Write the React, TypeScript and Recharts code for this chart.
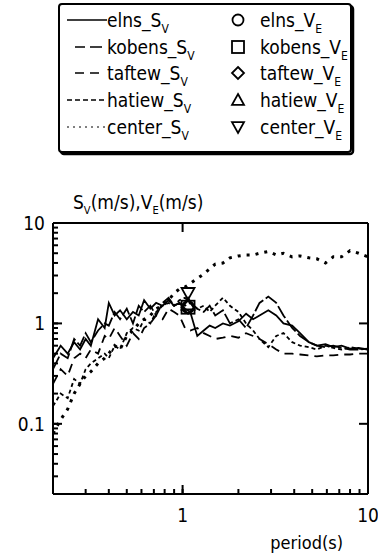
import React from "react";
import { ComposedChart, Line, Scatter, XAxis, YAxis, ReferenceLine } from "recharts";

// period grid (s)
const periods = [
  0.2, 0.22, 0.24, 0.26, 0.28, 0.3, 0.32, 0.35, 0.38, 0.4, 0.43, 0.46, 0.5, 0.54, 0.58, 0.62,
  0.67, 0.72, 0.78, 0.84, 0.9, 0.96, 1.03, 1.1, 1.2, 1.3, 1.4, 1.5, 1.65, 1.8, 2.0, 2.2, 2.4,
  2.6, 2.9, 3.2, 3.5, 3.9, 4.3, 4.8, 5.3, 5.9, 6.5, 7.2, 8.0, 8.9, 10,
];

// S_V (m/s) per record
const elnsSv = [
  0.45, 0.6, 0.5, 0.65, 0.55, 0.7, 0.6, 1.1, 0.9, 1.6, 1.2, 1.35, 1.1, 1.3, 1.2, 1.7, 1.4, 1.6,
  1.5, 1.7, 1.5, 1.6, 1.4, 1.3, 0.75, 0.85, 0.95, 0.9, 1.0, 0.95, 1.05, 1.25, 1.1, 1.2, 1.35,
  1.2, 1.0, 0.95, 0.8, 0.65, 0.6, 0.62, 0.58, 0.6, 0.56, 0.57, 0.55,
];
const kobensSv = [
  0.35, 0.5, 0.45, 0.7, 0.6, 0.8, 0.65, 0.85, 1.0, 0.95, 1.3, 1.1, 1.4, 1.0, 1.5, 1.3, 1.5, 1.2,
  1.6, 1.8, 1.5, 1.6, 1.5, 1.6, 1.4, 1.3, 1.5, 1.2, 1.35, 1.0, 1.1, 0.9, 1.2, 1.6, 1.85, 1.6,
  1.2, 0.9, 0.75, 0.65, 0.6, 0.58, 0.6, 0.57, 0.55, 0.55, 0.56,
];
const taftewSv = [
  0.25, 0.35, 0.3, 0.45, 0.5, 0.45, 0.55, 0.5, 0.75, 0.7, 0.9, 0.75, 0.6, 0.8, 0.7, 0.9, 1.0,
  1.2, 1.1, 1.4, 1.3, 1.2, 0.9, 0.85, 0.9, 0.8, 0.75, 0.7, 0.72, 0.75, 0.72, 0.8, 0.75, 0.7,
  0.62, 0.55, 0.5, 0.5, 0.49, 0.48, 0.47, 0.48, 0.48, 0.49, 0.49, 0.5, 0.5,
];
const hatiewSv = [
  0.15, 0.2, 0.18, 0.28, 0.25, 0.35, 0.4, 0.45, 0.5, 0.45, 0.6, 0.55, 0.8, 0.9, 0.85, 1.1, 1.0,
  1.3, 1.5, 1.6, 1.5, 1.7, 1.8, 1.6, 1.4, 1.5, 1.3, 1.5, 1.8, 1.5, 1.3, 1.0, 0.85, 0.7, 0.58,
  0.75, 0.8, 0.65, 0.6, 0.58, 0.55, 0.6, 0.57, 0.55, 0.58, 0.56, 0.55,
];
const centerSv = [
  0.08, 0.11, 0.14, 0.2, 0.25, 0.3, 0.33, 0.4, 0.45, 0.5, 0.6, 0.55, 0.75, 0.85, 1.0, 1.1, 1.2,
  1.4, 1.5, 1.7, 2.0, 2.2, 2.3, 2.5, 2.8, 3.1, 3.5, 3.9, 4.0, 4.5, 4.7, 4.8, 4.8, 5.0, 5.2, 4.8,
  5.0, 4.6, 4.7, 4.5, 4.4, 4.0, 4.6, 4.6, 5.3, 5.0, 4.6,
];

// V_E (m/s) points
const vePeriod = 1.07;
const elnsVe = 1.45;
const kobensVe = 1.45;
const taftewVe = 1.45;
const hatiewVe = 1.55;
const centerVe = 2.0;

const xTicks = [0.2, 0.3, 0.4, 0.5, 0.6, 0.7, 0.8, 0.9, 1, 2, 3, 4, 5, 6, 7, 8, 9, 10];
const xMajor = [1, 10];
const yTicks = [
  0.02, 0.03, 0.04, 0.05, 0.06, 0.07, 0.08, 0.09, 0.1, 0.2, 0.3, 0.4, 0.5, 0.6, 0.7, 0.8, 0.9,
  1, 2, 3, 4, 5, 6, 7, 8, 9, 10,
];
const yMajor = [0.1, 1, 10];

const X_DOMAIN = [0.2, 10];
const Y_DOMAIN = [0.02, 10];

const rows = periods.map((p, i) => ({
  period: p,
  elns: elnsSv[i],
  kobens: kobensSv[i],
  taftew: taftewSv[i],
  hatiew: hatiewSv[i],
  center: centerSv[i],
}));

const FONT = '"Liberation Sans Narrow", "DejaVu Sans Condensed", "Liberation Sans", sans-serif';

// plot is 315 x 271 px; tick lengths (px) expressed as log-scale factors
const PX_PER_DEC_X = 315 / Math.log10(X_DOMAIN[1] / X_DOMAIN[0]);
const PX_PER_DEC_Y = 271 / Math.log10(Y_DOMAIN[1] / Y_DOMAIN[0]);
const fx = (px: number) => Math.pow(10, px / PX_PER_DEC_X);
const fy = (px: number) => Math.pow(10, px / PX_PER_DEC_Y);

const lines = [
  { key: "elns", dash: undefined, width: 1.8, lx: [67, 107] },
  { key: "kobens", dash: "14 3", width: 1.8, lx: [75, 102], ldash: "10 5 14" },
  { key: "taftew", dash: "9 6", width: 1.8, lx: [75, 102], ldash: "9 6" },
  { key: "hatiew", dash: "4 3", width: 1.8, lx: [67, 107], ldash: "5 3" },
  { key: "center", dash: "3 6", width: 3, lx: [67, 107], ldash: "2 4", lw: 1 },
];

const markers = [
  { name: "elns", shape: "circle", value: elnsVe },
  { name: "kobens", shape: "square", value: kobensVe },
  { name: "taftew", shape: "diamond", value: taftewVe },
  { name: "hatiew", shape: "up", value: hatiewVe },
  { name: "center", shape: "down", value: centerVe },
];

const Mark = ({ cx, cy, shape, r = 6.5 }: any) => {
  const st = { fill: "none", stroke: "#000", strokeWidth: 1.8 };
  if (shape === "circle") return <circle cx={cx} cy={cy} r={r - 0.5} {...st} />;
  if (shape === "square") return <rect x={cx - r} y={cy - r} width={r * 2} height={r * 2} {...st} />;
  if (shape === "diamond")
    return <polygon points={`${cx},${cy - r} ${cx + r},${cy} ${cx},${cy + r} ${cx - r},${cy}`} {...st} />;
  if (shape === "up")
    return <polygon points={`${cx},${cy - r} ${cx + r},${cy + r * 0.8} ${cx - r},${cy + r * 0.8}`} {...st} />;
  return <polygon points={`${cx},${cy + r} ${cx + r},${cy - r * 0.8} ${cx - r},${cy - r * 0.8}`} {...st} />;
};

// tick props arrive 5px inside the plot (tickSize -5)
const BottomLabel = (props: any) => {
  const { x, y, payload } = props;
  if (!xMajor.includes(payload.value)) return <g />;
  return (
    <text x={x} y={y + 33} textAnchor="middle" fontFamily={FONT} fontSize={19} fill="#000">
      {payload.value}
    </text>
  );
};

const LeftLabel = (props: any) => {
  const { x, y, payload } = props;
  if (!yMajor.includes(payload.value)) return <g />;
  return (
    <text x={x - 13} y={y + 7} textAnchor="end" fontFamily={FONT} fontSize={19} fill="#000">
      {payload.value}
    </text>
  );
};

const axisLine = { stroke: "#000", strokeWidth: 2 };
const tickStroke = { stroke: "#000", strokeWidth: 2 };

const Overlay = () => {
  const rowY = [27, 54, 80, 107, 134];
  return (
    <svg width={378} height={553} style={{ position: "absolute", left: 0, top: 0 }} fontFamily={FONT}>
      <rect x={61} y={6} width={292} height={148} rx={3} fill="none" stroke="#000" strokeWidth={2.5} />
      <rect x={59} y={4} width={292} height={148} rx={3} fill="#fff" stroke="#000" strokeWidth={2} />
      {lines.map((l, i) => (
        <g key={l.key}>
          <line
            x1={l.lx[0]}
            x2={l.lx[1]}
            y1={rowY[i] - 7}
            y2={rowY[i] - 7}
            stroke="#000"
            strokeWidth={l.lw ?? 1.4}
            strokeDasharray={l.ldash}
          />
          <text x={107} y={rowY[i]} fontSize={19} fill="#000">
            {l.key}_S
            <tspan fontSize={12} dy={6}>V</tspan>
          </text>
        </g>
      ))}
      {markers.map((m, i) => (
        <g key={m.name}>
          <Mark cx={238} cy={rowY[i] - 7} shape={m.shape} r={6} />
          <text x={260} y={rowY[i]} fontSize={19} fill="#000">
            {m.name}_V
            <tspan fontSize={12} dy={6}>E</tspan>
          </text>
        </g>
      ))}
      <text x={73} y={209} fontSize={19} fill="#000">
        S<tspan fontSize={11} dy={5}>V</tspan>
        <tspan dy={-5}>(m/s),V</tspan>
        <tspan fontSize={11} dy={5}>E</tspan>
        <tspan dy={-5}>(m/s)</tspan>
      </text>
      <text x={343} y={549} fontSize={18} textAnchor="end" fill="#000">
        period(s)
      </text>
    </svg>
  );
};

export default function App() {
  return (
    <div style={{ position: "absolute", left: 0, top: 0, width: 378, height: 553, background: "#fff" }}>
      <Overlay />
      <ComposedChart
        width={378}
        height={553}
        data={rows}
        margin={{ top: 222, right: 9, bottom: 58, left: 52 }}
      >
        <XAxis
          dataKey="period"
          type="number"
          scale="log"
          domain={X_DOMAIN}
          allowDataOverflow
          ticks={xTicks}
          interval={0}
          tick={BottomLabel}
          tickLine={tickStroke}
          tickSize={-5}
          tickMargin={0}
          height={1}
          axisLine={axisLine}
        />
        <XAxis
          xAxisId="top"
          dataKey="period"
          orientation="top"
          type="number"
          scale="log"
          domain={X_DOMAIN}
          allowDataOverflow
          ticks={xTicks}
          interval={0}
          tick={false}
          tickLine={tickStroke}
          tickSize={-5}
          height={1}
          axisLine={axisLine}
        />
        <YAxis
          type="number"
          scale="log"
          domain={Y_DOMAIN}
          allowDataOverflow
          ticks={yTicks}
          interval={0}
          tick={LeftLabel}
          tickLine={tickStroke}
          tickSize={-5}
          tickMargin={0}
          width={1}
          axisLine={axisLine}
        />
        <YAxis
          yAxisId="right"
          orientation="right"
          type="number"
          scale="log"
          domain={Y_DOMAIN}
          allowDataOverflow
          ticks={yTicks}
          interval={0}
          tick={false}
          tickLine={tickStroke}
          tickSize={-5}
          width={1}
          axisLine={axisLine}
        />
        {/* invisible series so the mirrored axes have data */}
        <Line
          xAxisId="top"
          yAxisId="right"
          dataKey="elns"
          stroke="none"
          dot={false}
          activeDot={false}
          isAnimationActive={false}
        />
        {/* longer inward ticks at the decades */}
        {xMajor.map((t) => [
          <ReferenceLine
            key={`xb${t}`}
            segment={[{ x: t, y: Y_DOMAIN[0] }, { x: t, y: Y_DOMAIN[0] * fy(9) }]}
            {...tickStroke}
          />,
          <ReferenceLine
            key={`xt${t}`}
            segment={[{ x: t, y: Y_DOMAIN[1] / fy(9) }, { x: t, y: Y_DOMAIN[1] }]}
            {...tickStroke}
          />,
        ])}
        {yMajor.map((t) => [
          <ReferenceLine
            key={`yl${t}`}
            segment={[{ x: X_DOMAIN[0], y: t }, { x: X_DOMAIN[0] * fx(9), y: t }]}
            {...tickStroke}
          />,
          <ReferenceLine
            key={`yr${t}`}
            segment={[{ x: X_DOMAIN[1] / fx(9), y: t }, { x: X_DOMAIN[1], y: t }]}
            {...tickStroke}
          />,
        ])}
        {lines.map((l) => (
          <Line
            key={l.key}
            dataKey={l.key}
            type="linear"
            stroke="#000"
            strokeWidth={l.width}
            strokeDasharray={l.dash}
            dot={false}
            isAnimationActive={false}
          />
        ))}
        {markers.map((m) => (
          <Scatter
            key={m.name}
            data={[{ period: vePeriod, value: m.value }]}
            dataKey="value"
            isAnimationActive={false}
            shape={(p: any) => <Mark cx={p.cx} cy={p.cy} shape={m.shape} />}
          />
        ))}
      </ComposedChart>
    </div>
  );
}
